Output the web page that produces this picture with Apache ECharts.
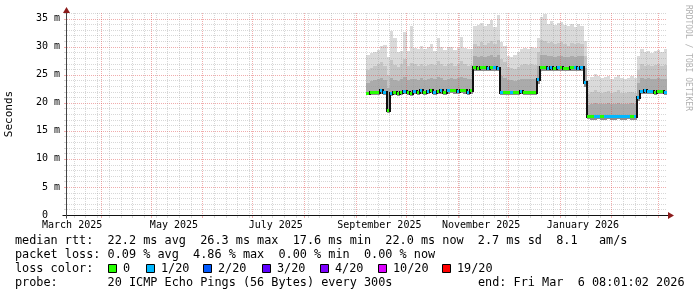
<!DOCTYPE html>
<html><head><meta charset="utf-8">
<script src="https://cdn.jsdelivr.net/npm/echarts@6/dist/echarts.min.js"></script>
<style>html,body{margin:0;padding:0;background:#fff}#c{width:697px;height:297px}</style>
</head><body><div id="c"></div>
<script>
// ---------------- data ----------------
const rangeEnd = '2026-03-06T08:01:02Z';
const rangeDays = 360;
const firstBin = '2025-09-07T08:00:00Z';
const binDays = 2;

const medianRtt = [
  21.8,21.9,21.9,22.0,22.2,22.0,18.7,21.8,21.9,21.8, 22.0,22.1,21.9,21.8,22.1,22.0,22.2,22.0,22.1,22.3,
  22.0,22.1,22.2,22.0,22.2,22.3,22.2,22.1,22.3,22.2, 22.0,22.2,
  26.3,26.2,26.3,26.3,26.2,26.3,26.3,26.2,
  21.9,22.0,21.9,22.0,21.9,22.0,22.1,22.0,22.0,21.9,22.0,
  24.3,
  26.3,26.3,26.2,26.3,26.2,26.3,26.3,26.2,26.2,26.3,26.3,26.2,26.3,
  23.7,
  17.7,17.6,17.6,17.7,17.6,17.6,17.7,17.6,17.6,17.7,17.6,17.6,17.7,17.6,17.6,
  21.0,
  22.1,22.2,22.1,22.1,22.0,22.1,22.1,22.0
];
const smokeLow = [
  21.3,21.4,21.3,21.4,21.6,21.4,18.2,21.2,21.3,21.2, 21.4,21.5,21.3,21.2,21.5,21.4,21.6,21.4,21.5,21.7,
  21.4,21.5,21.6,21.4,21.6,21.7,21.6,21.5,21.7,21.6, 21.4,21.6,
  25.7,25.6,25.7,25.7,25.6,25.7,25.7,25.6,
  21.3,21.4,21.3,21.4,21.3,21.4,21.5,21.4,21.4,21.3,21.4,
  23.4,
  25.7,25.7,25.6,25.7,25.6,25.7,25.7,25.6,25.6,25.7,25.7,25.6,25.7,
  22.9,
  17.1,17.0,17.0,17.1,17.0,17.0,17.1,17.0,17.0,17.1,17.0,17.0,17.1,17.0,17.0,
  20.3,
  21.5,21.6,21.5,21.5,21.4,21.5,21.5,21.4
];
const smokeMid = [
  23.6,23.8,24.0,24.2,24.4,24.1,22.6,24.5,24.0,23.9, 24.2,24.6,24.0,24.3,24.2,24.0,24.4,24.1,24.3,24.5,
  24.2,24.6,24.4,24.1,24.3,24.5,24.2,24.4,24.6,24.4, 24.2,24.3,
  28.3,28.1,28.4,28.2,28.3,28.5,28.2,28.6,
  24.8,24.5,24.0,24.0,23.9,24.1,24.2,24.3,24.2,24.3,24.2,
  26.5,
  28.6,28.5,28.3,28.4,28.2,28.3,28.4,28.2,28.1,28.3,28.2,28.4,28.3,
  26.2,
  19.6,19.8,19.9,19.8,19.7,19.8,19.9,19.7,19.8,19.9,19.8,19.7,19.8,19.9,19.8,
  23.5,
  24.5,24.3,24.4,24.2,24.3,24.4,24.2,24.3
];
const smokeHigh = [
  25.8,26.2,26.5,27.0,27.2,26.6,25.0,27.6,26.8,26.4, 26.9,27.8,26.6,27.1,26.9,26.5,27.0,26.6,26.8,27.0,
  26.7,27.4,27.0,26.5,26.9,27.1,26.6,27.0,27.5,26.9, 26.6,26.8,
  30.5,30.2,30.8,30.3,30.6,31.0,30.4,31.2,
  27.8,27.2,26.3,26.2,26.0,26.4,26.7,26.9,26.8,27.0,26.8,
  29.0,
  31.2,31.0,30.6,30.8,30.4,30.6,30.8,30.5,30.2,30.6,30.4,30.7,30.5,
  28.4,
  21.5,22.0,22.2,21.9,21.8,22.0,22.1,21.7,21.9,22.2,21.8,21.7,21.9,22.0,21.8,
  25.8,
  27.0,26.6,26.8,26.5,26.7,26.9,26.6,26.8
];
const smokeTop = [
  28.6,28.9,29.0,29.4,30.1,30.3,28.2,32.8,31.5,29.0, 29.3,32.7,29.2,33.6,29.8,29.5,30.2,29.6,29.9,30.4,
  29.3,31.5,30.0,29.4,29.9,30.0,29.4,29.8,31.8,29.7, 29.5,29.6,
  33.6,33.9,34.3,33.7,34.0,34.8,33.5,35.6,
  30.8,30.2,28.4,28.2,28.6,29.0,29.6,29.8,29.5,30.0,29.7,
  31.5,
  35.2,35.8,34.0,34.5,33.8,34.2,34.4,33.9,33.6,34.1,33.5,34.0,33.7,
  31.0,
  24.0,24.6,25.2,24.7,24.5,24.6,24.8,24.3,24.6,25.0,24.4,24.2,24.5,24.7,24.4,
  28.3,
  29.6,29.0,29.3,28.9,29.2,29.4,29.0,29.5
];
// index into lossLabels / lossColors
const lossIdx = [
  0,0,0,0,1,1,0,1,0,0, 0,1,0,0,1,0,1,0,1,0,
  1,0,1,0,1,0,0,1,0,0, 1,0,
  0,0,0,0,1,0,1,1,
  1,0,0,1,0,0,1,0,0,0,0,
  1,
  0,0,1,1,0,1,0,0,0,0,1,1,1,
  1,
  0,0,1,1,0,1,1,1,1,1,1,1,1,0,1,
  1,
  1,1,1,1,0,0,0,1
];
const lossLabels = ['0','1/20','2/20','3/20','4/20','10/20','19/20'];
const lossColors = ['#26ff00','#00b8ff','#0059ff','#5e00ff','#7e00ff','#dd00ff','#ff0000'];

const yTickValues = [0,5,10,15,20,25,30,35];
const yMax = 36;
const xLabelDates = ['2025-03-15','2025-05-15','2025-07-15','2025-09-15','2025-11-15','2026-01-15'];
const xLabelTexts = ['March 2025','May 2025','July 2025','September 2025','November 2025','January 2026'];

const yAxisTitle = 'Seconds';
const rttLine  = 'median rtt:  22.2 ms avg  26.3 ms max  17.6 ms min  22.0 ms now  2.7 ms sd  8.1   am/s';
const lossLine = 'packet loss: 0.09 % avg  4.86 % max  0.00 % min  0.00 % now';
const colorLine = 'loss color:';
const probeLine = 'probe:       20 ICMP Echo Pings (56 Bytes) every 300s';
const endLine = 'end: Fri Mar  6 08:01:02 2026';
const watermark = 'RRDTOOL / TOBI OETIKER';

// ---------------- build ----------------
const DAY = 86400000;
const endMs = Date.parse(rangeEnd);
const startMs = endMs - rangeDays * DAY;
const bin0 = Date.parse(firstBin);
const BIN_MS = binDays * DAY;
const MONO = 'DejaVu Sans Mono';

const smokeData = medianRtt.map((m, i) => [bin0 + i * BIN_MS, smokeLow[i], m, smokeMid[i], smokeHigh[i], smokeTop[i]]);
const medianData = medianRtt.map((m, i) => [bin0 + i * BIN_MS, m, lossIdx[i]]);
const xLabelMs = xLabelDates.map(d => Date.parse(d + 'T00:00:00Z'));

// grid lines (weekly Sundays minor, 1st of month major)
const hGrid = [];
for (let v = 1; v <= yMax; v++) hGrid.push([startMs, v, v % 5 === 0 ? 1 : 0]);
const vGrid = [];
const monthSet = new Set();
for (let k = 0; k < 24; k++) {
  const t = Date.UTC(2025, k, 1);
  if (t > startMs && t < endMs) { vGrid.push([t, 0, 1]); monthSet.add(t); }
}
for (let t = Date.UTC(2025, 2, 16); t < endMs; t += 7 * DAY) {
  if (t > startMs && !monthSet.has(t)) vGrid.push([t, 0, 0]);
}

const smokeShades = ['#8e8e8e', '#ababab', '#c5c5c5', '#dadada'];
const minorCol = 'rgba(150,150,150,0.38)';
const majorCol = 'rgba(225,70,70,0.45)';
const arrowCol = '#8c1c1c';

function renderSmoke(params, api) {
  const t = api.value(0);
  const x0 = Math.round(api.coord([t, 0])[0]);
  const x1 = Math.min(Math.round(api.coord([t + BIN_MS, 0])[0]), Math.round(api.coord([endMs, 0])[0]));
  const lv = [api.value(1), api.value(2), api.value(3), api.value(4), api.value(5)];
  const children = [];
  for (let k = 0; k < 4; k++) {
    const yb = Math.round(api.coord([t, lv[k]])[1]);
    const yt = Math.round(api.coord([t, lv[k + 1]])[1]);
    children.push({ type: 'rect', shape: { x: x0, y: yt, width: x1 - x0, height: Math.max(yb - yt, 0) }, style: { fill: smokeShades[k] } });
  }
  return { type: 'group', children };
}

function renderMedian(params, api) {
  const i = params.dataIndex;
  const t = api.value(0);
  const x0 = Math.round(api.coord([t, 0])[0]);
  const x1 = Math.min(Math.round(api.coord([t + BIN_MS, 0])[0]), Math.round(api.coord([endMs, 0])[0]));
  const y = Math.round(api.coord([t, api.value(1)])[1]);
  const children = [];
  if (i > 0) {
    const yp = Math.round(api.coord([t, medianRtt[i - 1]])[1]);
    if (yp !== y) {
      children.push({ type: 'rect', shape: { x: x0 - 1, y: Math.min(y, yp) - 1, width: 2, height: Math.abs(y - yp) + 3 }, style: { fill: '#111' } });
    }
  }
  children.push({ type: 'rect', shape: { x: x0, y: y - 1, width: x1 - x0, height: 3 }, style: { fill: lossColors[api.value(2)] } });
  return { type: 'group', children };
}

function renderHGrid(params, api) {
  const v = api.value(1);
  const major = api.value(2) === 1;
  const p0 = api.coord([startMs, v]);
  const p1 = api.coord([endMs, v]);
  const y = Math.round(p0[1]) + 0.5;
  const col = major ? majorCol : minorCol;
  return { type: 'group', children: [
    { type: 'line', shape: { x1: Math.round(p0[0]) + 1, y1: y, x2: Math.round(p1[0]), y2: y }, style: { stroke: col, lineWidth: 1, lineDash: [1, 1] } },
    { type: 'line', shape: { x1: Math.round(p0[0]) - 2, y1: y, x2: Math.round(p0[0]), y2: y }, style: { stroke: col, lineWidth: 1 } }
  ]};
}

function renderVGrid(params, api) {
  const t = api.value(0);
  const major = api.value(2) === 1;
  const p0 = api.coord([t, 0]);
  const p1 = api.coord([t, yMax]);
  const x = Math.round(p0[0]) + 0.5;
  const col = major ? majorCol : minorCol;
  return { type: 'group', children: [
    { type: 'line', shape: { x1: x, y1: Math.round(p0[1]) - 1, x2: x, y2: Math.round(p1[1]) }, style: { stroke: col, lineWidth: 1, lineDash: [1, 1] } },
    { type: 'line', shape: { x1: x, y1: Math.round(p0[1]) + 1, x2: x, y2: Math.round(p0[1]) + 3 }, style: { stroke: col, lineWidth: 1 } }
  ]};
}

function renderAxes(params, api) {
  const o = api.coord([startMs, 0]);
  const e = api.coord([endMs, 0]);
  const tp = api.coord([startMs, yMax]);
  const ox = Math.round(o[0]) + 0.5, oy = Math.round(o[1]) + 0.5;
  const ex = Math.round(e[0]);
  const ty = Math.round(tp[1]);
  return { type: 'group', children: [
    { type: 'line', shape: { x1: ox - 4, y1: oy, x2: ex + 2, y2: oy }, style: { stroke: '#111', lineWidth: 1 } },
    { type: 'line', shape: { x1: ox, y1: oy + 3, x2: ox, y2: ty - 1 }, style: { stroke: '#444', lineWidth: 1 } },
    { type: 'polygon', shape: { points: [[ex + 1, oy - 3.5], [ex + 1, oy + 3.5], [ex + 7, oy]] }, style: { fill: arrowCol } },
    { type: 'polygon', shape: { points: [[ox - 3.5, ty], [ox + 3.5, ty], [ox, ty - 6]] }, style: { fill: arrowCol } }
  ]};
}

const monthFmt = v => {
  const k = xLabelMs.indexOf(v);
  return k >= 0 ? xLabelTexts[k] : '';
};

const legendStyle = { fontFamily: MONO, fontSize: 11.84, fill: '#000', verticalAlign: 'middle' };
const boxX = [108, 146, 203, 262, 320, 378, 442];
const graphic = [
  { type: 'text', x: 15, y: 241, style: Object.assign({ text: rttLine }, legendStyle) },
  { type: 'text', x: 15, y: 255, style: Object.assign({ text: lossLine }, legendStyle) },
  { type: 'text', x: 15, y: 269, style: Object.assign({ text: colorLine }, legendStyle) },
  { type: 'text', x: 15, y: 283, style: Object.assign({ text: probeLine }, legendStyle) },
  { type: 'text', x: 478, y: 283, style: Object.assign({ text: endLine }, legendStyle) },
  { type: 'text', x: 688, y: 5, rotation: -Math.PI / 2, style: { text: watermark, fontFamily: MONO, fontSize: 8, fill: '#b0b0b0', verticalAlign: 'middle', align: 'left' } }
];
lossLabels.forEach((lab, k) => {
  graphic.push({ type: 'rect', shape: { x: boxX[k] + 0.5, y: 264.5, width: 8, height: 8 }, style: { fill: lossColors[k], stroke: '#000', lineWidth: 1 } });
  graphic.push({ type: 'text', x: boxX[k] + 15, y: 269, style: Object.assign({ text: lab }, legendStyle) });
});

const chart = echarts.init(document.getElementById('c'), null, { renderer: 'canvas' });
chart.setOption({
  animation: false,
  backgroundColor: '#fff',
  grid: { left: 66, top: 13, width: 601, height: 202, containLabel: false, outerBoundsMode: 'none' },
  xAxis: {
    type: 'value', min: startMs, max: endMs, scale: true,
    axisLine: { show: false }, axisTick: { show: false }, splitLine: { show: false },
    axisLabel: { customValues: xLabelMs, formatter: monthFmt, fontFamily: MONO, fontSize: 10, color: '#000', margin: 5, hideOverlap: false, showMinLabel: true, showMaxLabel: true }
  },
  yAxis: {
    type: 'value', min: 0, max: yMax,
    name: yAxisTitle, nameLocation: 'middle', nameGap: 51, nameRotate: 90,
    nameTextStyle: { fontFamily: MONO, fontSize: 11, color: '#000' },
    axisLine: { show: false }, axisTick: { show: false }, splitLine: { show: false },
    axisLabel: { customValues: yTickValues, formatter: v => (v === 0 ? '0  ' : v + ' m'), fontFamily: MONO, fontSize: 10, color: '#000', margin: 6, padding: [2, 0, 0, 0] }
  },
  series: [
    { type: 'custom', name: 'smoke', z: 1, renderItem: renderSmoke, encode: { x: 0, y: [1, 2, 3, 4, 5] }, data: smokeData, silent: true },
    { type: 'custom', name: 'hgrid', z: 2, renderItem: renderHGrid, encode: { x: 0, y: 1 }, data: hGrid, silent: true },
    { type: 'custom', name: 'vgrid', z: 2, renderItem: renderVGrid, encode: { x: 0, y: 1 }, data: vGrid, silent: true },
    { type: 'custom', name: 'median', z: 3, renderItem: renderMedian, encode: { x: 0, y: 1 }, data: medianData, silent: true },
    { type: 'custom', name: 'axes', z: 4, renderItem: renderAxes, encode: { x: 0, y: 1 }, data: [[startMs, 0]], silent: true }
  ],
  graphic: graphic
});
</script></body></html>
